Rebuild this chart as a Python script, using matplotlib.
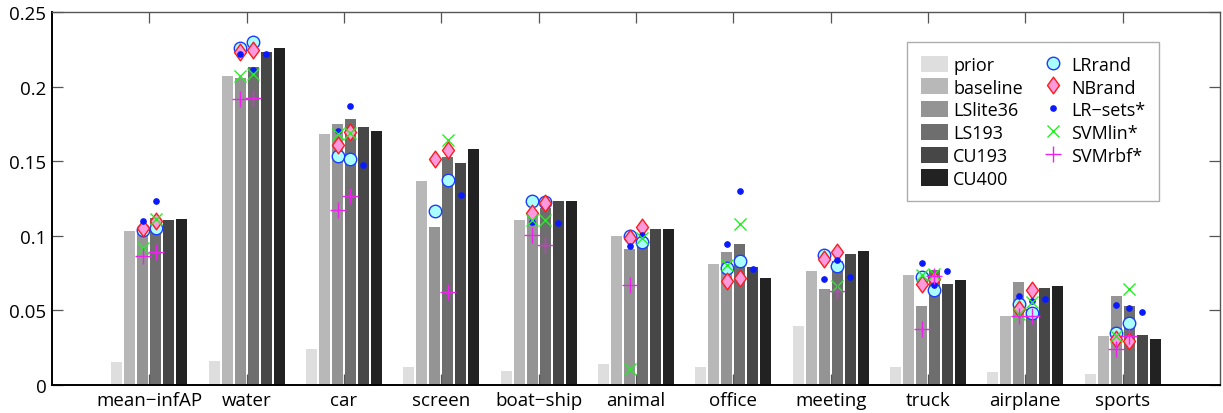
import matplotlib
matplotlib.use("Agg")
import matplotlib.pyplot as plt
from matplotlib.patches import Patch
from matplotlib.lines import Line2D
from matplotlib.path import Path
import numpy as np

nan = np.nan

categories = ["mean−infAP", "water", "car", "screen", "boat−ship", "animal",
              "office", "meeting", "truck", "airplane", "sports"]

# bar series
prior    = [0.0156, 0.0163, 0.0241, 0.0121, 0.0094, 0.0141, 0.0121, 0.0395, 0.0121, 0.0087, 0.0074]
baseline = [0.1032, 0.2071, 0.1682, 0.1367, 0.1108, 0.0999, 0.0811, 0.0764, 0.0737, 0.0462, 0.0328]
lslite36 = [0.1040, 0.2060, 0.1750, 0.1059, 0.1135, 0.0912, 0.0891, 0.0643, 0.0530, 0.0690, 0.0597]
ls193    = [0.1117, 0.2131, 0.1783, 0.1528, 0.1186, 0.0985, 0.0945, 0.0830, 0.0771, 0.0509, 0.0530]
cu193    = [0.1106, 0.2234, 0.1729, 0.1488, 0.1233, 0.1046, 0.0791, 0.0878, 0.0677, 0.0650, 0.0335]
cu400    = [0.1110, 0.2259, 0.1702, 0.1582, 0.1233, 0.1046, 0.0717, 0.0898, 0.0704, 0.0663, 0.0308]

# marker series, measured on LSlite36 / LS193 / CU193 features
lr_lite = [0.104, 0.2259, 0.1533, 0.1166, 0.1235, 0.0997, 0.0782, 0.0871, 0.0722, 0.0541, 0.0346]
lr_ls   = [0.105, 0.2297, 0.1517, 0.1372, 0.1224, 0.0956, 0.0833, 0.0796, 0.0639, 0.0483, 0.0416]
nb_lite = [0.105, 0.2230, 0.1609, 0.1513, 0.1150, 0.0985, 0.0699, 0.0845, 0.0677, 0.0509, 0.0308]
nb_ls   = [0.110, 0.2248, 0.1694, 0.1577, 0.1218, 0.1057, 0.0715, 0.0889, 0.0710, 0.0637, 0.0297]
lrsets_lite = [0.110, 0.2218, 0.1705, nan, 0.1095, 0.0930, 0.0945, 0.0710, 0.0818, 0.0599, 0.0536]
lrsets_ls   = [0.123, 0.2113, 0.1870, nan, nan, 0.1005, 0.1298, 0.0838, 0.0670, 0.0565, 0.0514]
lrsets_cu   = [nan, 0.2218, 0.1477, 0.1276, 0.1086, nan, 0.0775, 0.0724, 0.0762, 0.0576, 0.0487]
svmlin_lite = [0.092, 0.2073, 0.1682, nan, 0.1108, 0.0107, 0.0804, nan, 0.0737, 0.0476, 0.0330]
svmlin_ls   = [0.111, 0.2084, 0.1689, 0.1640, 0.1108, 0.0983, 0.1081, 0.0661, 0.0744, 0.0554, 0.0643]
svmrbf_lite = [0.0867, 0.1917, 0.1171, nan, 0.1005, 0.0672, nan, nan, 0.0373, 0.0465, 0.0241]
svmrbf_ls   = [0.0893, 0.1924, 0.1265, 0.0621, 0.0940, nan, nan, 0.0628, 0.0733, 0.0465, 0.0326]

plt.rcParams['font.family'] = ['Open Sans', 'DejaVu Sans']

fig = plt.figure(figsize=(12.23, 4.14), dpi=100)
ax = fig.add_axes([52/1223, 1 - 386/414, (1220 - 52)/1223, 373/414])

x = np.arange(1, len(categories) + 1)
step = 0.1334
width = 0.113
bars = [prior, baseline, lslite36, ls193, cu193, cu400]
bar_names = ["prior", "baseline", "LSlite36", "LS193", "CU193", "CU400"]
bar_colors = ["#dedede", "#b8b8b8", "#949494", "#6e6e6e", "#474747", "#222222"]

handles = []
for k, (vals, name, c) in enumerate(zip(bars, bar_names, bar_colors)):
    ax.bar(x + (k - 2.5) * step, vals, width, color=c, zorder=1)
    handles.append(Patch(facecolor=c, edgecolor='none', label=name))

off_lite = x - 0.5 * step
off_ls = x + 0.5 * step
off_cu = x + 1.5 * step

# taller-than-wide diamond like matlab's 'd'
diamond = Path([(0, 1), (0.72, 0), (0, -1), (-0.72, 0), (0, 1)],
               [Path.MOVETO, Path.LINETO, Path.LINETO, Path.LINETO, Path.CLOSEPOLY])

circ = dict(marker='o', ms=9, mfc='#aaffff', mec='#1a3cff', mew=1.0, ls='none', zorder=3)
diam = dict(marker=diamond, ms=12, mfc='#ff99dd', mec='#ff1a1a', mew=1.0, ls='none', zorder=4)
dot = dict(marker='o', ms=3.8, mfc='#0a1aff', mec='#0a1aff', ls='none', zorder=5)
xm = dict(marker='x', ms=8, mec='#22ee22', mew=1.0, ls='none', zorder=5)
pm = dict(marker='+', ms=11, mec='#ee22ee', mew=1.0, ls='none', zorder=5)

ax.plot(off_lite, lr_lite, **circ)
ax.plot(off_ls, lr_ls, **circ)
ax.plot(off_lite, nb_lite, **diam)
ax.plot(off_ls, nb_ls, **diam)
ax.plot(off_lite, lrsets_lite, **dot)
ax.plot(off_ls, lrsets_ls, **dot)
ax.plot(off_cu, lrsets_cu, **dot)
ax.plot(off_lite, svmlin_lite, **xm)
ax.plot(off_ls, svmlin_ls, **xm)
ax.plot(off_lite, svmrbf_lite, **pm)
ax.plot(off_ls, svmrbf_ls, **pm)

handles += [
    Line2D([], [], label="LRrand", **circ),
    Line2D([], [], label="NBrand", **diam),
    Line2D([], [], label="LR−sets*", **dot),
    Line2D([], [], label="SVMlin*", **xm),
    Line2D([], [], label="SVMrbf*", **pm),
]

ax.set_xlim(0, 12)
ax.set_ylim(0, 0.25)
ax.set_xticks(x)
ax.set_xticklabels(categories)
yt = [0, 0.05, 0.1, 0.15, 0.2, 0.25]
ax.set_yticks(yt)
ax.set_yticklabels(["%g" % v for v in yt])
ax.tick_params(direction='in', length=8, width=0.9, color='#555555', labelsize=13.5,
               top=True, right=True, pad=4)
for s in ['left', 'bottom']:
    ax.spines[s].set_linewidth(1.4)
    ax.spines[s].set_color('black')
for s in ['top', 'right']:
    ax.spines[s].set_linewidth(1.0)
    ax.spines[s].set_color('#555555')

leg = ax.legend(handles=handles, ncol=2, loc='upper left',
                bbox_to_anchor=((907 - 52)/1168, (386 - 43)/373), borderaxespad=0,
                fontsize=13, frameon=True, fancybox=False, edgecolor='#999999',
                handlelength=1.5, handleheight=1.0, handletextpad=0.3,
                columnspacing=0.9, labelspacing=0.25, borderpad=0.75)
leg.get_frame().set_linewidth(1.0)

fig.savefig("out.png", dpi=100)
